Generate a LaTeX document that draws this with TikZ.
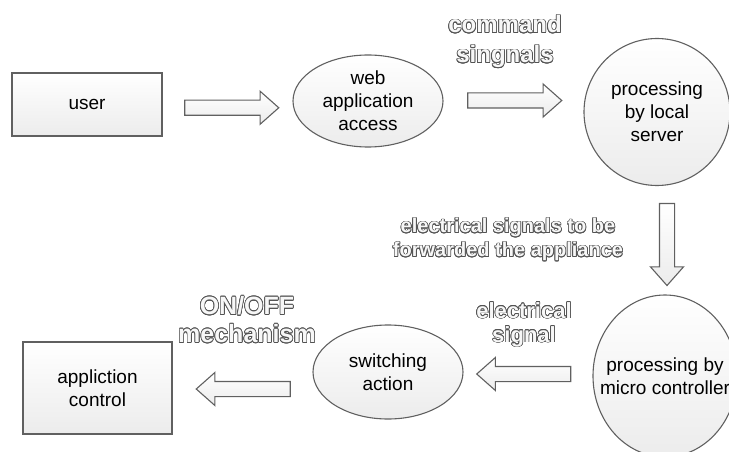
\documentclass[tikz,border=0pt]{standalone}
\usepackage{fontspec}
\setmainfont{Liberation Sans}
\usepackage{contour}
\contourlength{0.7pt}
\usetikzlibrary{shapes.geometric, shapes.arrows, positioning}
\newcommand{\hollow}[1]{\contour{gray!65!black}{#1}}

\begin{document}
\begin{tikzpicture}[x=1pt, y=-1pt,
  node font=\fontsize{19}{23}\selectfont,
  box/.style={rectangle, draw=gray!75!black, line width=1.1pt, top color=white, bottom color=gray!15, align=center},
  blob/.style={ellipse, draw=gray!75!black, line width=1.1pt, top color=white, bottom color=gray!15, inner sep=0pt, align=center},
  arr/.style={single arrow, draw=gray!75!black, line width=1.1pt, top color=white, bottom color=gray!15, inner xsep=0pt, inner ysep=7pt, single arrow head extend=9pt, single arrow tip angle=83, minimum height=94pt},
  lab/.style={text=gray!6, align=center}]
\useasboundingbox (0,0) rectangle (729,452);

\node[box, minimum width=150pt, minimum height=63pt] (state1) at (87,104.5) {user};
\node[blob, minimum width=150pt, minimum height=92pt] (state2) at (368,101) {web\\application\\access};
\node[blob, minimum width=146pt, minimum height=147pt] (state3) at (657,112) {processing\\by local\\server};
\node[blob, minimum width=144pt, minimum height=162pt, label={[name=text4, align=center]center:{processing by\\micro controller}}] (state4) at (665,376) {};
\node[blob, minimum width=150pt, minimum height=94pt] (state5) at (388,372) {switching\\action};
\node[box, minimum width=149pt, minimum height=92pt] (state6) at (97.5,388) {appliction\\control};

% \node[lab] (lab0) {...};
\node[lab, font=\fontsize{24}{30}\selectfont\bfseries] (lab1) at (505,42) {\hollow{command}\\\hollow{singnals}};
\node[lab, font=\fontsize{20}{24}\selectfont\bfseries] (lab2) at (508,240) {\hollow{electrical signals to be}\\\hollow{forwarded the appliance}};
\node[lab, font=\fontsize{22}{24}\selectfont\bfseries] (lab3) at (524,325) {\hollow{electrical}\\\hollow{signal}};
\node[lab, font=\fontsize{25}{28}\selectfont\bfseries] (lab4) at (247,320) {\hollow{ON/OFF}\\\hollow{mechanism}};

\path (state1.east) -- node[arr, yshift=-5pt] (arr1) {} (state2.west);
\path (state2.east) -- node[arr, xshift=-3pt, yshift=6pt] (arr2) {} (state3.west);
\path (state3.south) -- node[arr, shape border rotate=270, inner xsep=7pt, inner ysep=0pt, minimum height=82pt, xshift=6pt] (arr3) {} (state4.north);
\path (state4.west) -- node[arr, shape border rotate=180] (arr4) {} (state5.east);
\path (state5.west) -- node[arr, shape border rotate=180, xshift=5pt, yshift=-9pt] (arr5) {} (state6.east);

\end{tikzpicture}
\end{document}
